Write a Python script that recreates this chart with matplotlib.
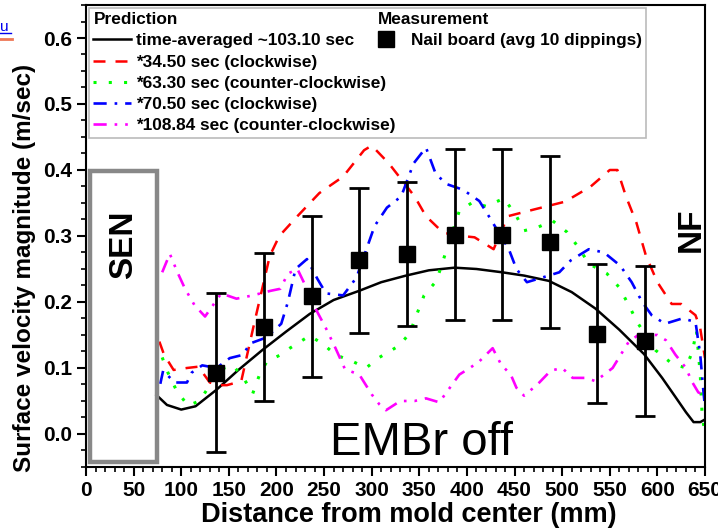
import matplotlib
matplotlib.use('Agg')
import matplotlib.pyplot as plt
from matplotlib.patches import Rectangle
from matplotlib.lines import Line2D
from matplotlib.ticker import MultipleLocator

plt.rcParams['font.family'] = ['Liberation Sans', 'DejaVu Sans']

# time-averaged prediction
avg_x = [74, 85, 100, 115, 137, 160, 185, 210, 235, 260, 287, 310, 336, 360, 387, 410,
         437, 460, 486, 510, 535, 560, 586, 605, 619, 630, 638, 645, 650]
avg_y = [0.059, 0.044, 0.037, 0.042, 0.067, 0.097, 0.127, 0.155, 0.182, 0.203, 0.217,
         0.230, 0.240, 0.248, 0.252, 0.250, 0.245, 0.240, 0.232, 0.215, 0.190, 0.158,
         0.121, 0.085, 0.056, 0.033, 0.018, 0.018, 0.022]

# 34.50 sec (clockwise)
cw34_x = [77, 82, 92, 106, 118, 130, 140, 148, 163, 177, 185, 193, 203, 222, 245, 270,
          292, 300, 318, 345, 357, 375, 395, 408, 428, 443, 470, 503, 530, 550, 558,
          567, 578, 588, 600, 615, 625, 640, 645, 650]
cw34_y = [0.140, 0.120, 0.097, 0.100, 0.102, 0.078, 0.074, 0.074, 0.080, 0.170, 0.220,
          0.270, 0.300, 0.330, 0.365, 0.390, 0.430, 0.437, 0.410, 0.360, 0.330, 0.305,
          0.300, 0.298, 0.280, 0.330, 0.340, 0.352, 0.375, 0.400, 0.400, 0.360, 0.320,
          0.270, 0.230, 0.197, 0.197, 0.180, 0.160, 0.115]

# 63.30 sec (counter-clockwise)
ccw63_x = [80, 86, 95, 107, 119, 133, 145, 154, 165, 175, 182, 190, 203, 214, 235, 250,
           262, 280, 294, 308, 329, 340, 347, 355, 368, 380, 392, 406, 420, 439, 452,
           460, 474, 490, 505, 518, 528, 547, 560, 570, 579, 598, 615, 630, 637, 641,
           645, 647, 650]
ccw63_y = [0.116, 0.093, 0.066, 0.043, 0.050, 0.080, 0.100, 0.104, 0.086, 0.061, 0.089,
           0.110, 0.119, 0.130, 0.149, 0.135, 0.120, 0.110, 0.100, 0.116, 0.134, 0.153,
           0.180, 0.210, 0.232, 0.285, 0.338, 0.351, 0.345, 0.357, 0.330, 0.308, 0.313,
           0.323, 0.306, 0.281, 0.258, 0.243, 0.222, 0.195, 0.169, 0.127, 0.107, 0.100,
           0.126, 0.157, 0.090, 0.028, 0.000]

# 70.50 sec (clockwise)
cw70_x = [78, 81, 93, 106, 111, 122, 137, 151, 165, 172, 189, 205, 212, 220, 232, 243,
          252, 270, 284, 303, 316, 331, 344, 357, 367, 378, 396, 413, 423, 444, 452,
          463, 479, 497, 509, 528, 544, 561, 573, 584, 594, 608, 626, 640, 645, 648, 650]
cw70_y = [0.076, 0.096, 0.078, 0.078, 0.093, 0.104, 0.100, 0.115, 0.120, 0.137, 0.146,
          0.167, 0.200, 0.250, 0.265, 0.235, 0.213, 0.210, 0.237, 0.315, 0.343, 0.360,
          0.410, 0.434, 0.395, 0.379, 0.370, 0.353, 0.330, 0.280, 0.250, 0.230, 0.237,
          0.245, 0.263, 0.280, 0.275, 0.255, 0.230, 0.200, 0.180, 0.167, 0.175, 0.170,
          0.120, 0.070, 0.040]

# 108.84 sec (counter-clockwise)
ccw108_x = [80, 88, 96, 104, 114, 125, 142, 158, 175, 194, 204, 212, 222, 232, 241, 252,
            262, 272, 287, 300, 308, 315, 330, 345, 357, 371, 382, 392, 403, 413, 427,
            436, 446, 452, 460, 474, 488, 500, 511, 525, 535, 553, 570, 580, 600, 609,
            619, 630, 636, 643, 648]
ccw108_y = [0.245, 0.273, 0.245, 0.220, 0.195, 0.178, 0.213, 0.205, 0.210, 0.217, 0.220,
            0.243, 0.250, 0.220, 0.190, 0.160, 0.130, 0.098, 0.090, 0.060, 0.045, 0.036,
            0.050, 0.050, 0.054, 0.048, 0.070, 0.090, 0.100, 0.110, 0.130, 0.105, 0.090,
            0.070, 0.058, 0.075, 0.096, 0.100, 0.085, 0.085, 0.080, 0.100, 0.140, 0.150,
            0.150, 0.142, 0.120, 0.100, 0.080, 0.063, 0.060]

# nail board measurement, avg of 10 dippings
meas_x = [137, 187, 237, 287, 337, 387, 437, 487, 537, 587]
meas_y = [0.093, 0.162, 0.209, 0.263, 0.273, 0.302, 0.302, 0.291, 0.152, 0.141]
meas_err = [0.121, 0.112, 0.122, 0.110, 0.109, 0.130, 0.130, 0.130, 0.105, 0.113]

# submerged entry nozzle outline (mm, m/sec)
sen_x0, sen_x1 = 4, 74.5
sen_y0, sen_y1 = -0.042, 0.398

fig = plt.figure(figsize=(7.18, 5.32), dpi=100)
ax = fig.add_axes([0.1198, 0.1222, 0.8621, 0.8684])

l_avg, = ax.plot(avg_x, avg_y, color='black', lw=1.8)
l_34, = ax.plot(cw34_x, cw34_y, color='#ff0000', lw=1.8, ls=(0, (4.8, 4.0)))
l_63, = ax.plot(ccw63_x, ccw63_y, color='#00ff00', lw=2.2, ls=(0, (1, 4)))
l_70, = ax.plot(cw70_x, cw70_y, color='#0000ff', lw=1.9, ls=(0, (5, 3, 1, 3)))
l_108, = ax.plot(ccw108_x, ccw108_y, color='#ff00ff', lw=1.9, ls=(0, (5, 3, 1, 3, 1, 3)))

eb = ax.errorbar(meas_x, meas_y, yerr=meas_err, fmt='s', color='black', ms=11,
                 elinewidth=2, capsize=7, capthick=2, zorder=5)

ax.add_patch(Rectangle((sen_x0, sen_y0), sen_x1 - sen_x0, sen_y1 - sen_y0,
                       fill=False, edgecolor='#888888', lw=3.2, zorder=4))
ax.text((sen_x0 + sen_x1) / 2, 0.287, 'SEN', rotation=90, ha='center', va='center',
        fontsize=24, fontweight='bold')
ax.text(636, 0.31, 'NF', rotation=90, ha='center', va='center',
        fontsize=24, fontweight='bold')
ax.text(256, -0.032, 'EMBr off', fontsize=34, ha='left', va='baseline')

ax.set_xlim(0, 650)
ax.set_ylim(-0.05, 0.65)
ax.xaxis.set_major_locator(MultipleLocator(50))
ax.xaxis.set_minor_locator(MultipleLocator(10))
ax.yaxis.set_major_locator(MultipleLocator(0.1))
ax.yaxis.set_minor_locator(MultipleLocator(0.025))
ax.yaxis.set_major_formatter(matplotlib.ticker.FormatStrFormatter('%.1f'))
ax.tick_params(which='major', direction='out', length=6.5, width=1.5, labelsize=15)
ax.tick_params(which='minor', direction='out', length=3.5, width=1.2)
for lab in ax.get_xticklabels() + ax.get_yticklabels():
    lab.set_fontweight('bold')
for sp in ax.spines.values():
    sp.set_linewidth(1.5)

ax.set_xlabel('Distance from mold center (mm)', fontsize=19.5, fontweight='bold')
ax.xaxis.set_label_coords(0.521, -0.075)
ax.set_ylabel('Surface velocity magnitude (m/sec)', fontsize=17.5, fontweight='bold')
ax.yaxis.set_label_coords(-0.08, 0.43)

blank = Line2D([], [], color='none')
sq = Line2D([], [], color='black', marker='s', ls='none', ms=11)
handles = [blank, l_avg, l_34, l_63, l_70, l_108, blank, sq, blank, blank, blank, blank]
labels = ['Prediction', 'time-averaged ~103.10 sec', '*34.50 sec (clockwise)',
          '*63.30 sec (counter-clockwise)', '*70.50 sec (clockwise)',
          '*108.84 sec (counter-clockwise)', 'Measurement',
          'Nail board (avg 10 dippings)', ' ', ' ', ' ', ' ']
leg = ax.legend(handles, labels, ncol=2, loc='upper left', bbox_to_anchor=(0.005, 0.994),
                borderaxespad=0, prop={'weight': 'bold', 'size': 12.4}, handlelength=2.2,
                handletextpad=0.3, labelspacing=0.36, columnspacing=-1.05,
                borderpad=0.25, fancybox=False, framealpha=1)
leg.get_frame().set_edgecolor('#bbbbbb')
leg.get_frame().set_linewidth(1.2)
# headers sit flush left, without a handle slot
cols = leg._legend_handle_box.get_children()
for col in cols:
    head = col.get_children()[0]
    head.get_children()[0].width = 0
    head.sep = 0
# the square sample gets a narrow slot at the left of its column
sq_box = cols[1].get_children()[1].get_children()[0]
sq_box.width = 20
for art in sq_box.get_children():
    art.set_xdata([5.8, 5.8, 5.8])

fig.text(0.0, 0.942, 'u', color='#0000ee', fontsize=11, va='baseline')
fig.add_artist(Line2D([0.0, 0.016], [0.938, 0.938], color='#0000ee', lw=1))
fig.add_artist(Line2D([0.0, 0.017], [0.927, 0.927], color='#ee7755', lw=2))

fig.savefig('out.png', dpi=100)
